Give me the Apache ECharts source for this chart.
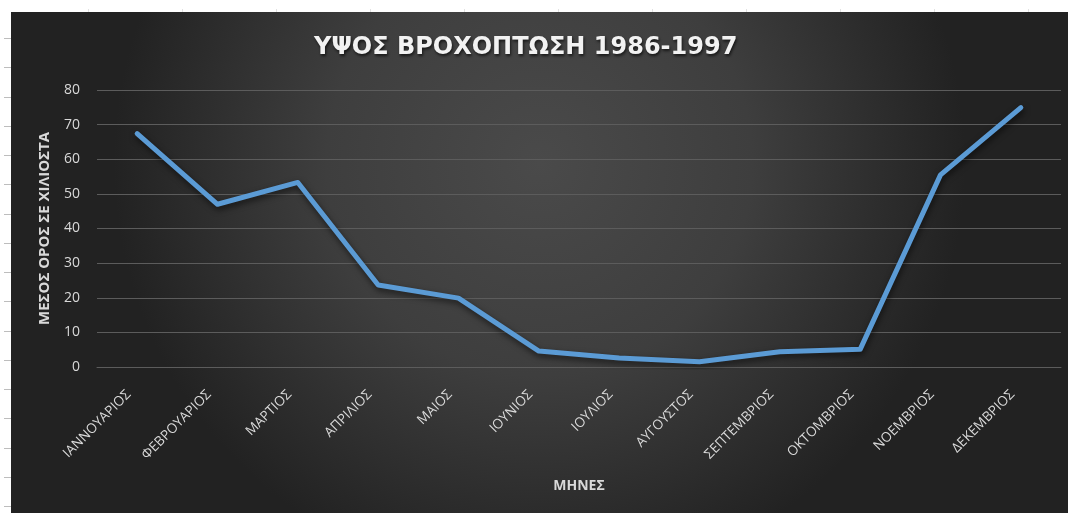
<!DOCTYPE html>
<html>
<head>
<meta charset="utf-8">
<script src="https://cdn.jsdelivr.net/npm/echarts@6/dist/echarts.min.js"></script>
<style>
  html, body { margin: 0; padding: 0; background: #ffffff; }
  #chart { width: 1068px; height: 513px; }
</style>
</head>
<body>
<div id="chart"></div>
<script>
// Monthly mean rainfall (mm), 1986-1997
const months = ['ΙΑΝΝΟΥΑΡΙΟΣ', 'ΦΕΒΡΟΥΑΡΙΟΣ', 'ΜΑΡΤΙΟΣ', 'ΑΠΡΙΛΙΟΣ', 'ΜΑΙΟΣ', 'ΙΟΥΝΙΟΣ',
                'ΙΟΥΛΙΟΣ', 'ΑΥΓΟΥΣΤΟΣ', 'ΣΕΠΤΕΜΒΡΙΟΣ', 'ΟΚΤΟΜΒΡΙΟΣ', 'ΝΟΕΜΒΡΙΟΣ', 'ΔΕΚΕΜΒΡΙΟΣ'];
const rainfall = [67.4, 47.0, 53.3, 23.7, 19.9, 4.6, 2.6, 1.5, 4.4, 5.1, 55.5, 74.9];
const yTicks = { min: 0, max: 80, step: 10 };

const titleText = 'ΥΨΟΣ ΒΡΟΧΟΠΤΩΣΗ 1986-1997';
const xAxisTitle = 'ΜΗΝΕΣ';
const yAxisTitle = 'ΜΕΣΟΣ ΟΡΟΣ ΣΕ ΧΙΛΙΟΣΤΑ';

const FONT = '"Open Sans", "DejaVu Sans", sans-serif';
const TEXT = '#d9d9d9';

// sheet row/column marks visible around the chart frame
const sheetMarks = [];
for (let y = 38; y < 513; y += 29.25) {
  sheetMarks.push({ type: 'line', silent: true, z: -50,
    shape: { x1: 4, y1: Math.round(y) + 0.5, x2: 11, y2: Math.round(y) + 0.5 },
    style: { stroke: '#bdbdbd', lineWidth: 1 } });
}
for (let x = 88; x < 1068; x += 94) {
  sheetMarks.push({ type: 'line', silent: true, z: -50,
    shape: { x1: Math.round(x) + 0.5, y1: 9, x2: Math.round(x) + 0.5, y2: 12 },
    style: { stroke: '#e2e2e2', lineWidth: 1 } });
}

const chart = echarts.init(document.getElementById('chart'));
chart.setOption({
  backgroundColor: '#ffffff',
  animation: false,
  graphic: [
    {
      type: 'rect', silent: true, z: -100,
      shape: { x: 11, y: 12, width: 1057, height: 501 },
      style: {
        fill: new echarts.graphic.RadialGradient(0.5, 0.3, 0.85, [
          { offset: 0, color: '#4a4a4a' },
          { offset: 0.5, color: '#3e3e3e' },
          { offset: 1, color: '#222222' }
        ])
      }
    },
    ...sheetMarks
  ],
  title: {
    text: titleText,
    left: 309,
    top: 31,
    textStyle: {
      color: '#f2f2f2',
      fontFamily: '"DejaVu Sans", sans-serif',
      fontWeight: 'bold',
      fontSize: 24,
      textShadowColor: 'rgba(0,0,0,0.65)',
      textShadowBlur: 3,
      textShadowOffsetX: 1,
      textShadowOffsetY: 2
    }
  },
  grid: { left: 97, right: 7, top: 90, bottom: 146, containLabel: false },
  xAxis: {
    type: 'category',
    data: months,
    boundaryGap: true,
    axisLine: { show: true, lineStyle: { color: '#5c5c5c', width: 1 } },
    axisTick: { show: false },
    axisLabel: {
      rotate: 45,
      interval: 0,
      margin: 17,
      padding: [0, 12, 0, 0],
      color: TEXT,
      fontFamily: FONT,
      fontSize: 13.5
    },
    name: xAxisTitle,
    nameLocation: 'middle',
    nameGap: 112,
    nameTextStyle: { color: TEXT, fontFamily: FONT, fontWeight: 'bold', fontSize: 14 }
  },
  yAxis: {
    type: 'value',
    min: yTicks.min,
    max: yTicks.max,
    interval: yTicks.step,
    axisLine: { show: false },
    axisTick: { show: false },
    splitLine: { show: true, lineStyle: { color: '#5c5c5c', width: 1 } },
    axisLabel: { margin: 17, color: TEXT, fontFamily: FONT, fontSize: 14 },
    name: yAxisTitle,
    nameLocation: 'middle',
    nameGap: 45,
    nameRotate: 90,
    nameTextStyle: { color: TEXT, fontFamily: FONT, fontWeight: 'bold', fontSize: 15 }
  },
  series: [{
    type: 'line',
    data: rainfall,
    symbol: 'none',
    smooth: false,
    lineStyle: {
      color: '#5b9bd5',
      width: 5,
      cap: 'round',
      join: 'round',
      shadowColor: 'rgba(0,0,0,0.6)',
      shadowBlur: 6,
      shadowOffsetX: 1,
      shadowOffsetY: 3
    }
  }]
});
</script>
</body>
</html>
